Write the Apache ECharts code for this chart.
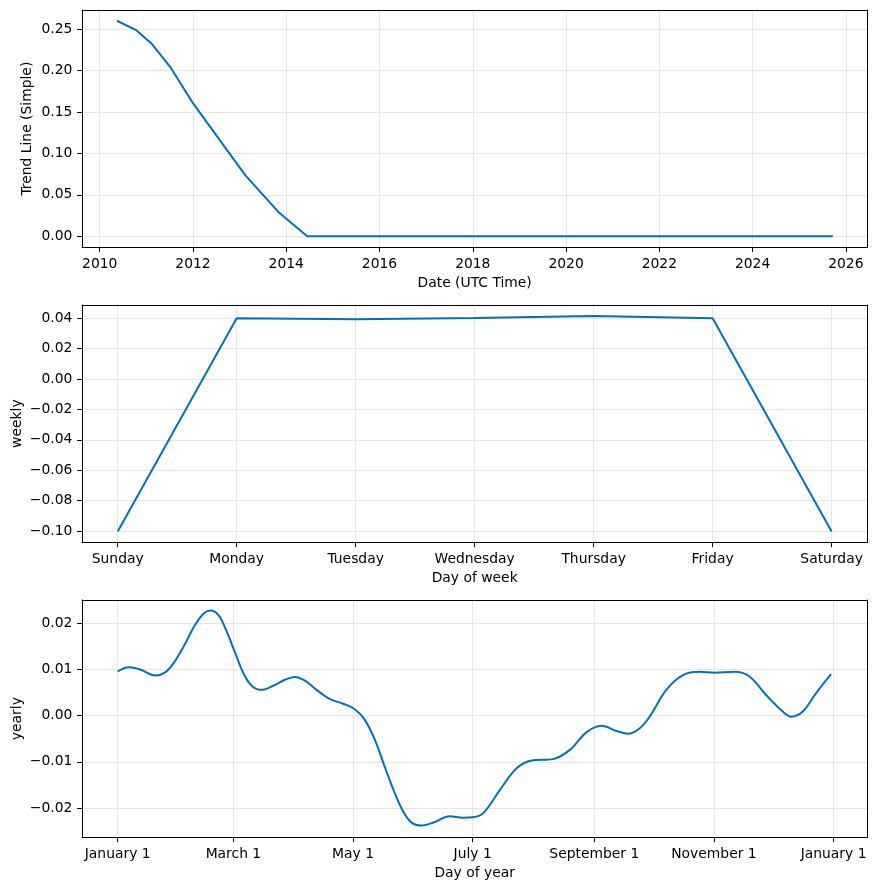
<!DOCTYPE html>
<html>
<head>
<meta charset="utf-8">
<script src="https://cdn.jsdelivr.net/npm/echarts@6/dist/echarts.min.js"></script>
<style>
html,body{margin:0;padding:0;background:#fff;}
#c{width:878px;height:890px;}
</style>
</head>
<body>
<div id="c"></div>
<script>
// ---- Data ----
const trendYears  = [2010.37, 2010.78, 2011.12, 2011.51, 2011.98, 2012.73, 2013.12, 2013.83, 2014.45, 2025.72];
const trendValues = [0.2603, 0.2491, 0.2322, 0.2047, 0.1624, 0.1040, 0.0738, 0.0294, 0.0000, 0.0000];
const trendTicks  = [2010, 2012, 2014, 2016, 2018, 2020, 2022, 2024, 2026];
const trendYTicks = [0.00, 0.05, 0.10, 0.15, 0.20, 0.25];

const weekDays    = ['Sunday', 'Monday', 'Tuesday', 'Wednesday', 'Thursday', 'Friday', 'Saturday'];
const weeklyVals  = [-0.1003, 0.0399, 0.0392, 0.0401, 0.0413, 0.0399, -0.1003];
const weeklyYTicks = [-0.10, -0.08, -0.06, -0.04, -0.02, 0.00, 0.02, 0.04];

const yearDays = [0, 5.6, 11.5, 19.2, 24.2, 28.5, 33.6, 39.5, 43.7, 47.1, 51.4, 55.6, 59.9, 64.1, 68.3, 73.4, 79.3, 85.3, 90.4, 95.5, 101.4, 108.2, 115, 120.9, 126, 131.1, 136.1, 141.2, 145.5, 149.7, 154.8, 160.7, 169.2, 176, 181.1,
                  186.4, 195, 203.4, 211, 222, 230.5, 239, 246.7, 254.3, 260.2, 266.2, 271.2, 279.7, 288.2, 296.7, 304.3, 314.5, 322.1, 330.6, 339.1, 343.4, 349.3, 356.1, 363.7];
const yearVals = [0.0096, 0.0105, 0.0100, 0.0087, 0.0094, 0.0114, 0.0150, 0.0197, 0.0221, 0.0228, 0.0218, 0.0182, 0.0136, 0.0092, 0.0065, 0.0056, 0.0065, 0.0078, 0.0084, 0.0076, 0.0056, 0.0036, 0.0026, 0.0014, -0.0009, -0.0052, -0.0110, -0.0167, -0.0207, -0.0231, -0.0238, -0.0232, -0.0218, -0.0221, -0.0220,
                  -0.0211, -0.0160, -0.0114, -0.0097, -0.0094, -0.0074, -0.0036, -0.0022, -0.0033, -0.0039, -0.0027, -0.0002, 0.0056, 0.0088, 0.0095, 0.0093, 0.0095, 0.0085, 0.0045, 0.0009, -0.0002, 0.0009, 0.0049, 0.0090];
const yearTickDays   = [0, 59, 120, 181, 243, 304, 365];
const yearTickLabels = ['January 1', 'March 1', 'May 1', 'July 1', 'September 1', 'November 1', 'January 1'];
const yearlyYTicks = [-0.02, -0.01, 0.00, 0.01, 0.02];

// ---- Styles ----
const FONT = 'DejaVu Sans';
const FS = 13.89;
const LINE = '#0072B2';
const GRIDC = '#e6e6e6';
const TICKLEN = 4.86;
const LMARGIN = 9.7;

function minus(s){ return s.replace('-', '\u2212'); }

function xAxisBase(gridIndex, name, min, max, ticks, fmt){
  return {
    type: 'value', gridIndex, min, max, name, position: 'bottom',
    nameLocation: 'middle', nameGap: 29, nameMoveOverlap: false,
    nameTextStyle: {fontFamily: FONT, fontSize: FS, color: '#000'},
    axisLine: {show: true, onZero: false, lineStyle: {color: '#000', width: 1}},
    axisTick: {show: true, length: TICKLEN, customValues: ticks, lineStyle: {color: '#000', width: 1}},
    axisLabel: {show: true, customValues: ticks, margin: LMARGIN, fontFamily: FONT, fontSize: FS, color: '#000', formatter: fmt, showMinLabel: true, showMaxLabel: true, hideOverlap: false},
    splitLine: {show: true, lineStyle: {color: GRIDC, width: 1}}
  };
}
function yAxisBase(gridIndex, name, min, max, ticks, nameGap){
  return {
    type: 'value', gridIndex, min, max, name, position: 'left',
    nameLocation: 'middle', nameGap, nameRotate: 90, nameMoveOverlap: false,
    nameTextStyle: {fontFamily: FONT, fontSize: FS, color: '#000'},
    axisLine: {show: true, onZero: false, lineStyle: {color: '#000', width: 1}},
    axisTick: {show: true, length: TICKLEN, customValues: ticks, lineStyle: {color: '#000', width: 1}},
    axisLabel: {show: true, customValues: ticks, margin: LMARGIN, fontFamily: FONT, fontSize: FS, color: '#000',
      formatter: v => minus((Math.abs(v) < 1e-9 ? 0 : v).toFixed(2)), showMinLabel: true, showMaxLabel: true, hideOverlap: false},
    splitLine: {show: true, lineStyle: {color: GRIDC, width: 1}}
  };
}
function frameAxis(kind, gridIndex){
  return {
    type: 'value', gridIndex, min: 0, max: 1, position: kind === 'x' ? 'top' : 'right',
    axisLine: {show: true, onZero: false, lineStyle: {color: '#000', width: 1}},
    axisTick: {show: false}, axisLabel: {show: false}, splitLine: {show: false}
  };
}

const gridCommon = {left: 82, right: 10.7, height: 237.3, show: false, containLabel: false, outerBoundsMode: 'none'};

const option = {
  animation: false,
  backgroundColor: '#fff',
  grid: [
    Object.assign({top: 10}, gridCommon),
    Object.assign({top: 305}, gridCommon),
    Object.assign({top: 600}, gridCommon)
  ],
  xAxis: [
    xAxisBase(0, 'Date (UTC Time)', 2009.62, 2026.46, trendTicks, v => String(Math.round(v))),
    xAxisBase(1, 'Day of week', -0.3, 6.3, weekDays.map((d, i) => i), v => weekDays[Math.round(v)]),
    xAxisBase(2, 'Day of year', -18.2, 382.2, yearTickDays, v => yearTickLabels[yearTickDays.indexOf(Math.round(v))]),
    frameAxis('x', 0), frameAxis('x', 1), frameAxis('x', 2)
  ],
  yAxis: [
    yAxisBase(0, 'Trend Line (Simple)', -0.0133, 0.2733, trendYTicks, 48),
    yAxisBase(1, 'weekly', -0.1074, 0.0486, weeklyYTicks, 57.5),
    yAxisBase(2, 'yearly', -0.02634, 0.02507, yearlyYTicks, 57.5),
    frameAxis('y', 0), frameAxis('y', 1), frameAxis('y', 2)
  ],
  series: [
    {type: 'line', xAxisIndex: 0, yAxisIndex: 0, showSymbol: false, symbol: 'none',
     lineStyle: {color: LINE, width: 2}, data: trendYears.map((y, i) => [y, trendValues[i]])},
    {type: 'line', xAxisIndex: 1, yAxisIndex: 1, showSymbol: false, symbol: 'none',
     lineStyle: {color: LINE, width: 2}, data: weeklyVals.map((v, i) => [i, v])},
    {type: 'line', xAxisIndex: 2, yAxisIndex: 2, showSymbol: false, symbol: 'none', smooth: 0.35,
     lineStyle: {color: LINE, width: 2}, data: yearDays.map((d, i) => [d, yearVals[i]])}
  ]
};

const chart = echarts.init(document.getElementById('c'), null, {renderer: 'canvas'});
chart.setOption(option);
</script>
</body>
</html>
